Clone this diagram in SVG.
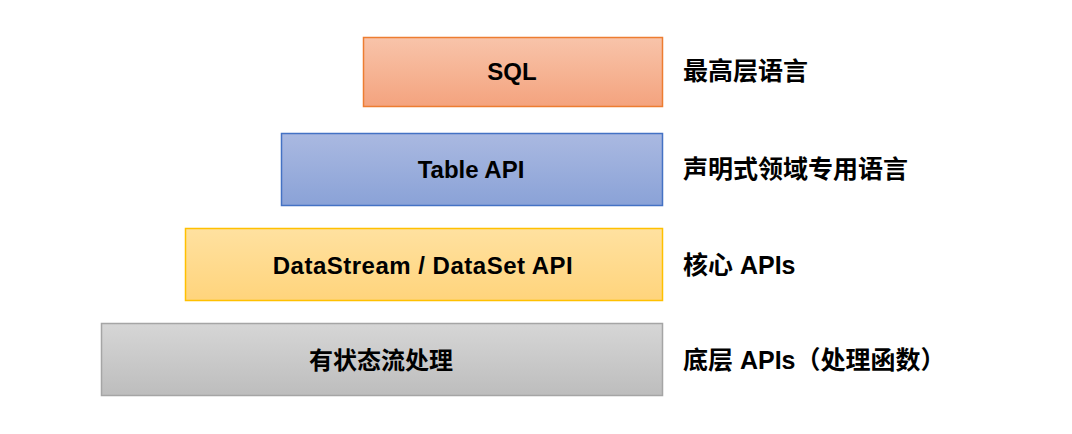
<svg xmlns="http://www.w3.org/2000/svg" width="1072" height="434" viewBox="0 0 1072 434">
<style>
.t{font-family:"Liberation Sans","Noto Sans CJK SC",Arial,sans-serif;font-weight:bold;font-size:24px;fill:#000}
.c{text-anchor:middle}
.r{font-size:25px}
</style>
<defs>
<linearGradient id="gO" x1="0" y1="0" x2="0" y2="1"><stop offset="0" stop-color="#f8c4aa"/><stop offset="1" stop-color="#f4a37e"/></linearGradient>
<linearGradient id="gB" x1="0" y1="0" x2="0" y2="1"><stop offset="0" stop-color="#aab9e1"/><stop offset="1" stop-color="#8aa2d7"/></linearGradient>
<linearGradient id="gY" x1="0" y1="0" x2="0" y2="1"><stop offset="0" stop-color="#ffe1a0"/><stop offset="1" stop-color="#ffd47c"/></linearGradient>
<linearGradient id="gG" x1="0" y1="0" x2="0" y2="1"><stop offset="0" stop-color="#d6d6d6"/><stop offset="1" stop-color="#bdbdbd"/></linearGradient>
</defs>
<rect width="1072" height="434" fill="#fff"/>
<g id="sql">
<rect x="363.5" y="37.5" width="299" height="69" fill="url(#gO)" stroke="#ed7d31" stroke-width="1.5"/>
<text class="t c" x="512" y="80">SQL</text>
<text class="t r" x="683" y="80">最高层语言</text>
</g>
<g id="table">
<rect x="281.5" y="133.5" width="381" height="72" fill="url(#gB)" stroke="#4472c4" stroke-width="1.5"/>
<text class="t c" x="471" y="178">Table API</text>
<text class="t r" x="683" y="178">声明式领域专用语言</text>
</g>
<g id="datastream">
<rect x="185.5" y="228.5" width="477" height="72" fill="url(#gY)" stroke="#ffc000" stroke-width="1.5"/>
<text class="t c" x="423" y="274" letter-spacing="0.5">DataStream / DataSet API</text>
<text class="t r" x="683" y="274">核心 APIs</text>
</g>
<g id="stateful">
<rect x="101.5" y="323.5" width="561" height="72" fill="url(#gG)" stroke="#a5a5a5" stroke-width="1.5"/>
<text class="t c" x="381" y="369">有状态流处理</text>
<text class="t r" x="683" y="369">底层 APIs（处理函数）</text>
</g>
<g id="connectors"/>
</svg>
